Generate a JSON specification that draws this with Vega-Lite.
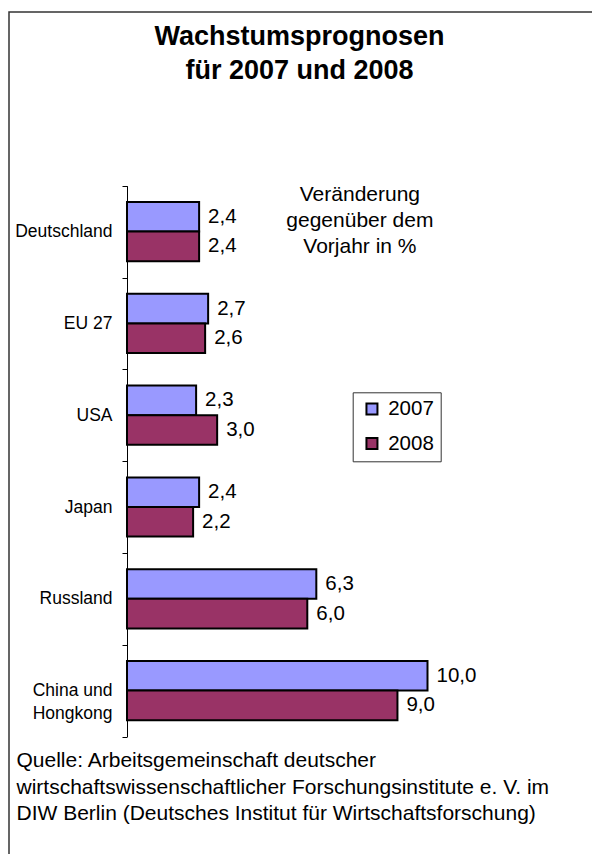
{
  "$schema": "https://vega.github.io/schema/vega-lite/v6.json",
  "width": 583,
  "height": 842,
  "autosize": {"type": "none"},
  "padding": {"left": 9, "top": 12, "right": 0, "bottom": 0},
  "background": "white",
  "config": {
    "font": "Liberation Sans",
    "locale": {"number": {"decimal": ",", "thousands": ".", "grouping": [3], "currency": ["", " €"]}},
    "view": {"stroke": "#333333", "strokeWidth": 1.5, "strokeDash": [583, 1425, 842, 10], "fill": "white"},
    "axis": {"grid": false}
  },
  "title": {
    "text": ["Wachstumsprognosen", "für 2007 und 2008"],
    "fontSize": 27,
    "fontWeight": "bold",
    "lineHeight": 34,
    "anchor": "middle",
    "frame": "group",
    "baseline": "alphabetic",
    "offset": -103,
    "dx": -1,
    "color": "black"
  },
  "layer": [
    {
      "data": {"name": "growth", "values": [
        {"country": "Deutschland", "year": "2007", "value": 2.4},
        {"country": "Deutschland", "year": "2008", "value": 2.4},
        {"country": "EU 27", "year": "2007", "value": 2.7},
        {"country": "EU 27", "year": "2008", "value": 2.6},
        {"country": "USA", "year": "2007", "value": 2.3},
        {"country": "USA", "year": "2008", "value": 3.0},
        {"country": "Japan", "year": "2007", "value": 2.4},
        {"country": "Japan", "year": "2008", "value": 2.2},
        {"country": "Russland", "year": "2007", "value": 6.3},
        {"country": "Russland", "year": "2008", "value": 6.0},
        {"country": "China und Hongkong", "year": "2007", "value": 10.0},
        {"country": "China und Hongkong", "year": "2008", "value": 9.0}
      ]},
      "layer": [
        {
          "mark": {"type": "bar", "stroke": "black", "strokeWidth": 2},
          "encoding": {
            "y": {
              "field": "country", "type": "nominal",
              "scale": {"domain": ["Deutschland", "EU 27", "USA", "Japan", "Russland", "China und Hongkong"], "range": [173.7, 724.5], "paddingInner": 0, "paddingOuter": 0},
              "axis": {
                "title": null, "offset": -118, "tickBand": "extent", "tickSize": 5, "tickColor": "black",
                "domainColor": "black", "domainWidth": 1, "labelFontSize": 17.5, "labelColor": "black",
                "labelPadding": 10, "labelLineHeight": 23,
                "labelExpr": "datum.value == 'China und Hongkong' ? ['China und', 'Hongkong'] : datum.label"
              }
            },
            "x": {
              "field": "value", "type": "quantitative",
              "scale": {"domain": [0, 10], "range": [118, 418.5], "nice": false},
              "axis": {
                "labels": false, "ticks": false, "domain": false, "grid": false,
                "title": ["Quelle: Arbeitsgemeinschaft deutscher", "wirtschaftswissenschaftlicher Forschungsinstitute e. V. im", "DIW Berlin (Deutsches Institut für Wirtschaftsforschung)"],
                "titleFontSize": 21, "titleFontWeight": "normal", "titleColor": "black",
                "titleAlign": "left", "titleAnchor": "start", "titleBaseline": "alphabetic", "titleAngle": 0,
                "titleX": 7, "titleY": -87.5, "titleLineHeight": 26.5
              }
            },
            "yOffset": {"field": "year", "type": "nominal", "scale": {"paddingInner": 0, "paddingOuter": 0.55}},
            "color": {
              "field": "year", "type": "nominal",
              "scale": {"domain": ["2007", "2008"], "range": ["#9999FF", "#993366"]},
              "legend": {
                "orient": "none", "legendX": 343.7, "legendY": 380.3, "title": null,
                "padding": 6.5, "strokeColor": "#333333", "fillColor": "white",
                "symbolType": "square", "symbolSize": 121, "symbolStrokeColor": "black", "symbolStrokeWidth": 2,
                "symbolOffset": 2.5, "labelFontSize": 20.5, "labelOffset": 6, "rowPadding": 13.5, "labelColor": "black"
              }
            }
          }
        },
        {
          "mark": {"type": "text", "align": "left", "baseline": "middle", "dx": 9, "fontSize": 20.5, "color": "black"},
          "encoding": {
            "y": {"field": "country", "type": "nominal"},
            "x": {"field": "value", "type": "quantitative"},
            "yOffset": {"field": "year", "type": "nominal"},
            "text": {"field": "value", "type": "quantitative", "format": ".1f"}
          }
        }
      ]
    },
    {
      "data": {"values": [{"note": "Veränderung\ngegenüber dem\nVorjahr in %"}]},
      "mark": {"type": "text", "lineBreak": "\n", "align": "center", "baseline": "middle", "fontSize": 21, "lineHeight": 26, "dy": -37, "color": "black"},
      "encoding": {
        "x": {"datum": 7.75, "type": "quantitative"},
        "y": {"datum": "Deutschland", "type": "nominal"},
        "text": {"field": "note", "type": "nominal"}
      }
    }
  ]
}
